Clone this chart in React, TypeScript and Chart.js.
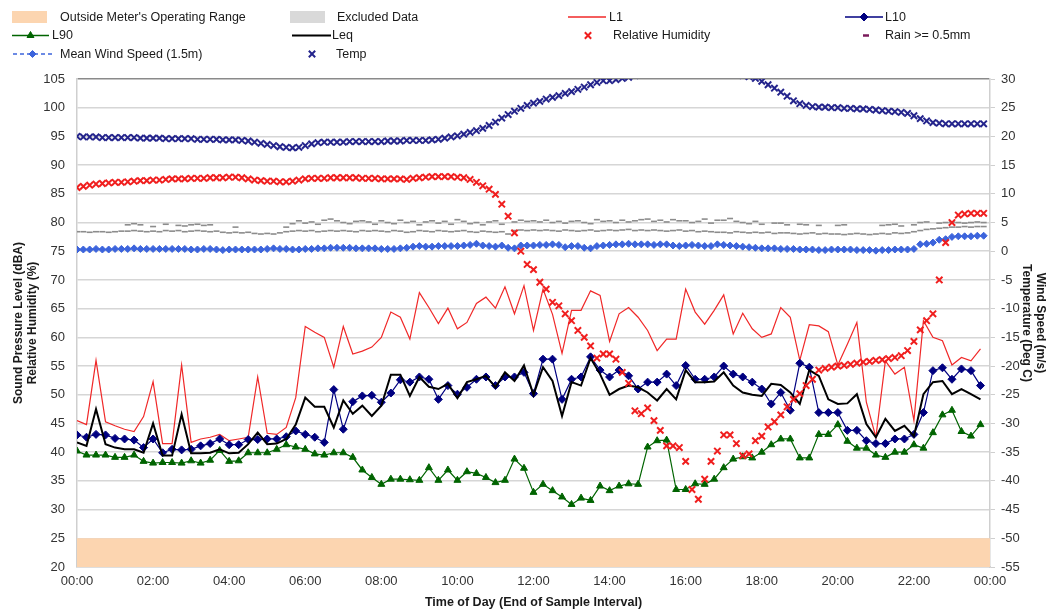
import React, { useEffect, useRef } from 'react';
import { Chart, registerables } from 'chart.js';
import { drawPoint } from 'chart.js/helpers';

Chart.register(...registerables);

const FONT = '"Liberation Sans", Arial, Helvetica, sans-serif';

// ---------- categories ----------
// noise statistics: 15-minute intervals (minutes after midnight)
const noiseTimes: number[] = Array.from({ length: 96 }, (_, i) => i * 15);
// weather: 10-minute intervals (minutes after midnight)
const weatherTimes: number[] = Array.from({ length: 144 }, (_, k) => k * 10);

const xTickLabels = ['00:00', '02:00', '04:00', '06:00', '08:00', '10:00', '12:00', '14:00', '16:00', '18:00', '20:00', '22:00', '00:00'];

// ---------- noise series (dBA) ----------
const L1 = [
  45.5, 44.8, 56.0, 45.3, 44.6, 44.0, 43.6, 46.2, 52.3, 41.5, 41.5, 55.2,
  41.7, 42.3, 42.6, 43.1, 42.0, 42.3, 42.6, 53.1, 43.3, 43.1, 44.3, 49.5,
  61.9, 60.9, 60.0, 54.8, 61.9, 57.1, 57.6, 58.3, 60.0, 64.4, 63.5, 59.7,
  67.8, 65.2, 62.4, 65.1, 61.5, 62.6, 65.9, 67.0, 65.1, 68.8, 64.1, 69.0,
  61.2, 68.4, 64.0, 57.2, 64.7, 64.7, 68.1, 67.3, 59.3, 64.1, 65.2, 63.5,
  61.2, 57.7, 59.7, 59.7, 68.4, 64.4, 62.3, 64.7, 67.4, 60.6, 64.2, 61.5,
  60.0, 60.6, 65.2, 63.5, 56.0, 62.2, 62.0, 61.0, 55.2, 58.8, 62.6, 48.7,
  42.6, 55.9, 53.6, 54.8, 45.5, 62.9, 60.0, 59.4, 55.2, 56.5, 55.9, 58.0,
];
const L10 = [
  43.0, 42.6, 43.1, 43.0, 42.4, 42.3, 42.1, 40.8, 42.3, 39.9, 40.5, 40.4,
  40.5, 41.1, 41.5, 42.3, 41.3, 41.3, 42.2, 42.2, 42.3, 42.3, 42.7, 43.7,
  43.1, 42.6, 41.7, 50.9, 44.0, 48.8, 49.8, 49.9, 48.7, 50.3, 52.6, 52.2,
  53.1, 52.7, 49.2, 51.6, 50.1, 51.3, 52.7, 53.1, 51.6, 53.1, 53.1, 53.9,
  50.2, 56.2, 56.2, 49.2, 52.7, 53.1, 56.6, 54.3, 53.1, 54.3, 53.3, 51.0,
  52.2, 52.2, 53.6, 51.6, 55.1, 52.7, 52.7, 53.1, 55.0, 53.6, 53.1, 52.2,
  51.0, 48.4, 50.4, 47.3, 55.5, 54.8, 46.9, 46.9, 46.9, 43.8, 43.8, 42.0,
  41.5, 41.5, 42.3, 42.3, 43.1, 46.9, 54.2, 54.7, 52.7, 54.5, 54.2, 51.6,
];
const L90 = [
  40.2, 39.5, 39.5, 39.5, 39.1, 39.1, 39.5, 38.4, 38.1, 38.2, 38.2, 38.1,
  38.5, 38.1, 38.6, 40.3, 38.4, 38.5, 39.9, 39.9, 39.9, 40.5, 41.3, 40.9,
  40.5, 39.7, 39.5, 39.9, 39.9, 39.1, 36.9, 35.6, 34.4, 35.3, 35.3, 35.2,
  35.1, 37.3, 35.1, 36.9, 35.1, 36.6, 36.3, 35.6, 34.7, 35.1, 38.8, 37.2,
  33.0, 34.4, 33.3, 32.2, 30.9, 32.0, 31.6, 34.1, 33.3, 34.1, 34.5, 34.4,
  40.9, 42.0, 42.1, 33.5, 33.5, 34.5, 34.4, 35.3, 37.3, 38.8, 39.2, 39.0,
  40.0, 41.3, 42.3, 42.3, 39.0, 39.0, 43.1, 43.1, 44.8, 41.9, 40.7, 40.7,
  39.5, 39.1, 40.0, 40.0, 41.3, 40.7, 43.4, 46.5, 47.3, 43.6, 42.8, 44.8,
];
const Leq = [
  41.7, 41.1, 47.5, 41.4, 40.8, 40.5, 40.5, 39.9, 45.0, 39.4, 39.4, 46.6,
  39.8, 39.8, 39.9, 40.5, 39.8, 39.9, 41.4, 43.4, 41.4, 41.5, 42.3, 44.8,
  49.5, 47.9, 47.9, 44.3, 49.0, 46.7, 48.1, 46.3, 48.1, 53.5, 53.5, 49.8,
  53.1, 51.4, 51.0, 51.9, 49.4, 52.2, 52.7, 53.3, 51.3, 53.9, 52.4, 55.1,
  50.0, 54.8, 52.4, 46.3, 52.2, 51.6, 56.4, 53.6, 50.0, 51.0, 51.6, 51.3,
  50.4, 49.0, 51.0, 49.2, 54.3, 52.2, 52.2, 52.3, 53.9, 51.6, 50.4, 50.0,
  49.8, 51.9, 51.7, 50.4, 48.4, 54.3, 53.3, 49.2, 48.4, 48.5, 50.1, 44.9,
  42.6, 45.8, 43.7, 44.6, 42.8, 50.1, 52.2, 52.4, 50.1, 51.0, 50.1, 49.2,
];

// ---------- weather series (10-minute) ----------
const relativeHumidity = [
  86.1, 86.3, 86.5, 86.7, 86.8, 86.9,
  87.0, 87.0, 87.1, 87.2, 87.3, 87.3,
  87.4, 87.4, 87.5, 87.6, 87.6, 87.6,
  87.7, 87.7, 87.7, 87.8, 87.8, 87.8,
  87.9, 87.9, 87.8, 87.6, 87.4, 87.3,
  87.2, 87.2, 87.1, 87.1, 87.2, 87.4,
  87.6, 87.7, 87.7, 87.7, 87.8, 87.8,
  87.8, 87.8, 87.8, 87.7, 87.7, 87.7,
  87.6, 87.6, 87.6, 87.6, 87.5, 87.7,
  87.8, 87.9, 88.0, 88.0, 88.0, 88.0,
  87.9, 87.8, 87.5, 87.0, 86.4, 85.8,
  84.9, 83.2, 81.1, 78.2, 75.0, 72.7,
  71.8, 69.6, 68.4, 66.1, 65.5, 64.1,
  62.9, 61.2, 60.0, 58.5, 56.4, 57.1,
  57.1, 56.2, 53.9, 52.0, 47.2, 46.7,
  47.7, 45.5, 43.8, 41.1, 41.1, 40.8,
  38.4, 33.5, 31.8, 35.3, 38.4, 40.2,
  43.0, 43.0, 41.5, 39.4, 39.7, 42.0,
  42.8, 44.4, 45.3, 46.5, 47.9, 49.2,
  50.2, 51.6, 52.7, 54.3, 54.6, 54.8,
  55.0, 55.1, 55.3, 55.5, 55.7, 55.8,
  56.0, 56.1, 56.3, 56.5, 56.8, 57.7,
  59.3, 61.3, 62.9, 64.1, 70.0, 76.5,
  80.0, 81.3, 81.5, 81.6, 81.6, 81.6,
];
const temperature = [
  20.0, 19.9, 19.9, 19.9, 19.8, 19.8,
  19.8, 19.8, 19.8, 19.8, 19.7, 19.7,
  19.7, 19.7, 19.6, 19.6, 19.6, 19.6,
  19.6, 19.5, 19.5, 19.5, 19.5, 19.4,
  19.4, 19.4, 19.3, 19.2, 19.0, 18.8,
  18.6, 18.4, 18.2, 18.1, 18.0, 18.1,
  18.4, 18.7, 18.9, 19.0, 19.0, 19.0,
  19.0, 19.1, 19.1, 19.1, 19.1, 19.1,
  19.1, 19.2, 19.2, 19.2, 19.3, 19.3,
  19.3, 19.3, 19.4, 19.5, 19.7, 19.9,
  20.1, 20.4, 20.7, 21.0, 21.4, 21.9,
  22.5, 23.2, 23.8, 24.4, 24.9, 25.4,
  25.8, 26.1, 26.5, 26.8, 27.1, 27.5,
  27.8, 28.2, 28.6, 29.0, 29.4, 29.7,
  29.7, 29.9, 30.1, 30.3, 30.6, 31.0,
  31.3, 31.6, 31.8, 32.0, 32.2, 32.3,
  32.4, 32.4, 32.3, 32.2, 32.0, 31.8,
  31.5, 31.2, 30.9, 30.6, 30.4, 30.1,
  29.6, 29.0, 28.4, 27.7, 27.0, 26.2,
  25.7, 25.4, 25.2, 25.1, 25.1, 25.0,
  25.0, 24.9, 24.9, 24.8, 24.8, 24.7,
  24.6, 24.5, 24.4, 24.3, 24.2, 24.0,
  23.6, 23.1, 22.7, 22.4, 22.3, 22.2,
  22.2, 22.2, 22.2, 22.2, 22.2, 22.2,
];
const meanWindSpeed = [
  0.3, 0.3, 0.3, 0.4, 0.3, 0.3,
  0.4, 0.4, 0.4, 0.5, 0.4, 0.4,
  0.4, 0.4, 0.4, 0.4, 0.4, 0.4,
  0.3, 0.3, 0.4, 0.4, 0.3, 0.2,
  0.3, 0.3, 0.3, 0.3, 0.3, 0.3,
  0.4, 0.5, 0.4, 0.4, 0.3, 0.3,
  0.4, 0.4, 0.5, 0.5, 0.6, 0.6,
  0.6, 0.6, 0.5, 0.5, 0.5, 0.5,
  0.4, 0.4, 0.4, 0.5, 0.6, 0.8,
  0.9, 0.8, 0.8, 0.9, 0.9, 0.9,
  0.9, 1.0, 1.1, 1.3, 1.0, 0.9,
  0.8, 1.0, 0.6, 0.5, 1.0, 1.0,
  1.0, 1.1, 1.1, 1.2, 1.1, 0.7,
  0.9, 0.9, 0.6, 0.5, 0.9, 1.0,
  1.1, 1.2, 1.2, 1.3, 1.2, 1.2,
  1.2, 1.1, 1.2, 1.2, 1.0, 0.9,
  1.0, 1.1, 1.0, 0.9, 0.9, 1.2,
  1.1, 1.0, 0.9, 0.8, 0.7, 0.6,
  0.5, 0.5, 0.5, 0.4, 0.4, 0.4,
  0.3, 0.3, 0.3, 0.2, 0.2, 0.3,
  0.3, 0.3, 0.3, 0.2, 0.2, 0.2,
  0.1, 0.2, 0.2, 0.3, 0.3, 0.3,
  0.4, 1.2, 1.3, 1.5, 2.0, 2.1,
  2.5, 2.6, 2.6, 2.6, 2.7, 2.7,
];
// grey dash markers (m/s) – lower and upper traces
const greyLow = [
  3.4, 3.4, 3.3, 3.4, 3.4, 3.3,
  3.4, 3.5, 3.5, 3.6, 3.5, 3.4,
  3.5, 3.4, 3.6, 3.5, 3.6, 3.4,
  3.5, 3.6, 3.5, 3.4, 3.5, 3.3,
  3.2, 3.3, 3.2, 3.3, 3.1, 3.0,
  3.1, 3.0, 3.2, 3.4, 3.5, 3.6,
  3.5, 3.6, 3.4, 3.5, 3.6, 3.5,
  3.6, 3.5, 3.4, 3.6, 3.5, 3.6,
  3.5, 3.4, 3.6, 3.5, 3.3, 3.4,
  3.6, 3.5, 3.4, 3.6, 3.5, 3.4,
  3.5, 3.6, 3.4, 3.3, 3.5, 3.4,
  3.3, 3.4, 3.0, 3.6, 3.7, 3.6,
  3.7, 3.6, 3.7, 3.6, 3.5, 3.7,
  3.6, 3.5, 3.6, 3.7, 3.5, 3.6,
  3.7, 3.6, 3.7, 3.8, 3.6, 3.7,
  3.6, 3.7, 3.6, 3.5, 3.6, 3.7,
  3.5, 3.6, 3.4, 3.5, 3.4, 3.3,
  3.3, 3.2, 3.4, 3.3, 3.2, 3.3,
  3.2, 3.3, 3.1, 3.2, 3.2, 3.1,
  3.0, 3.1, 3.2, 3.0, 3.1, 3.0,
  3.0, 2.9, 3.0, 3.1, 3.0, 2.9,
  3.0, 3.1, 3.0, 3.2, 3.1, 3.2,
  3.4, 3.6, 3.8, 3.9, 4.0, 4.1,
  4.2, 4.2, 4.3, 4.2, 4.3, 4.3,
];
const greyHigh: (number | null)[] = [
  null, null, null, null, null, null,
  null, null, 4.6, 4.8, 4.6, null,
  4.3, null, 4.7, null, 4.5, 4.4,
  4.6, 4.7, 4.5, 4.6, null, null,
  null, 4.2, null, null, null, null,
  null, null, null, 4.2, 4.8, 5.3,
  4.9, 5.1, 4.7, 5.4, 5.6, 5.3,
  5.0, 4.8, 5.2, 5.3, 5.1, 4.7,
  5.3, 5.0, 4.8, 5.4, 5.0, 5.2,
  4.6, 5.1, 5.3, 4.9, 5.2, 4.7,
  5.5, 5.2, 4.8, 5.0, 4.6, 5.1,
  5.3, 4.7, null, 5.1, 5.4, 5.2,
  5.3, 5.1, 5.4, 5.0, 5.2, 4.9,
  5.2, 5.3, 5.0, 4.8, 5.5, 5.2,
  5.3, 5.0, 5.4, 5.1, 5.3, 5.5,
  5.6, 5.2, 5.4, 5.1, 5.5, 5.3,
  5.3, 5.0, 5.2, 5.6, 4.9, 5.4,
  5.4, 5.7, 5.2, 5.0, 4.8, 5.2,
  4.7, null, 4.9, 4.9, 4.6, null,
  4.7, 4.6, null, 4.5, null, null,
  4.5, 4.6, null, null, null, null,
  null, 4.5, 4.6, 4.7, 4.4, null,
  4.6, 5.0, 5.1, null, 4.9, 5.0,
  5.1, 5.0, 4.9, 5.0, 5.1, 5.0,
];

// meter operating range band (dBA)
const rangeBandTop = 25;
const rangeBandBottom = 20;
const dayStart = 0;
const dayEnd = 1440;

// ---------- colours ----------
const C = {
  L1: '#f02828',
  L10: '#000080',
  L90: '#006400',
  Leq: '#000000',
  RH: '#f01e1e',
  rain: '#7a1a5a',
  wind: '#3c64dc',
  temp: '#24248c',
  grey: '#8c8c8c',
  band: '#fcd5b0',
  excluded: '#d9d9d9',
};

type LegendEntry = {
  label: string;
  kind: 'box' | 'line' | 'marker';
  color: string;
  row: number;
  x0: number;
  x1: number;
  textX: number;
  pointStyle?: string;
  radius?: number;
  dash?: number[];
  lineWidth?: number;
  markerWidth?: number;
};

const legendRowsY = [17, 35.5, 54];
const legendEntries: LegendEntry[] = [
  { label: "Outside Meter's Operating Range", kind: 'box', color: C.band, row: 0, x0: 12, x1: 47, textX: 60 },
  { label: 'Excluded Data', kind: 'box', color: C.excluded, row: 0, x0: 290, x1: 325, textX: 337 },
  { label: 'L1', kind: 'line', color: C.L1, row: 0, x0: 568, x1: 606, textX: 609, lineWidth: 1.3 },
  { label: 'L10', kind: 'line', color: C.L10, row: 0, x0: 845, x1: 883, textX: 885, lineWidth: 1.3, pointStyle: 'rectRot', radius: 4 },
  { label: 'L90', kind: 'line', color: C.L90, row: 1, x0: 12, x1: 49, textX: 52, lineWidth: 1.3, pointStyle: 'triangle', radius: 4 },
  { label: 'Leq', kind: 'line', color: C.Leq, row: 1, x0: 292, x1: 331, textX: 332, lineWidth: 2 },
  { label: 'Relative Humidity', kind: 'marker', color: C.RH, row: 1, x0: 588, x1: 588, textX: 613, pointStyle: 'crossRot', radius: 4.5, markerWidth: 2 },
  { label: 'Rain >= 0.5mm', kind: 'marker', color: C.rain, row: 1, x0: 866, x1: 866, textX: 885, pointStyle: 'line', radius: 3, markerWidth: 2.5 },
  { label: 'Mean Wind Speed (1.5m)', kind: 'line', color: C.wind, row: 2, x0: 13, x1: 52, textX: 60, lineWidth: 1.5, dash: [4, 3], pointStyle: 'rectRot', radius: 3.5 },
  { label: 'Temp', kind: 'marker', color: C.temp, row: 2, x0: 312, x1: 312, textX: 336, pointStyle: 'crossRot', radius: 4.5, markerWidth: 2 },
];

const legendPlugin = {
  id: 'gridLegend',
  afterDraw(chart: any) {
    const ctx: CanvasRenderingContext2D = chart.ctx;
    ctx.save();
    for (const e of legendEntries) {
      const y = legendRowsY[e.row];
      if (e.kind === 'box') {
        ctx.fillStyle = e.color;
        ctx.fillRect(e.x0, y - 6, e.x1 - e.x0, 12);
      } else if (e.kind === 'line') {
        ctx.strokeStyle = e.color;
        ctx.lineWidth = e.lineWidth || 1;
        ctx.setLineDash(e.dash || []);
        ctx.beginPath();
        ctx.moveTo(e.x0, y);
        ctx.lineTo(e.x1, y);
        ctx.stroke();
        ctx.setLineDash([]);
        if (e.pointStyle) {
          ctx.fillStyle = e.color;
          ctx.strokeStyle = e.color;
          ctx.lineWidth = 1;
          drawPoint(ctx, { pointStyle: e.pointStyle as any, radius: e.radius || 3, rotation: 0, borderWidth: 1 } as any, (e.x0 + e.x1) / 2, y);
        }
      } else {
        ctx.fillStyle = e.color;
        ctx.strokeStyle = e.color;
        ctx.lineWidth = e.markerWidth || 1;
        drawPoint(ctx, { pointStyle: e.pointStyle as any, radius: e.radius || 3, rotation: 0, borderWidth: e.markerWidth || 1 } as any, e.x0, y);
      }
      ctx.fillStyle = '#1a1a1a';
      ctx.font = `12.5px ${FONT}`;
      ctx.textAlign = 'left';
      ctx.textBaseline = 'middle';
      ctx.fillText(e.label, e.textX, y + 0.5);
    }
    ctx.restore();
  },
};

const pts = (xs: number[], ys: (number | null)[]) => xs.map((x, i) => ({ x, y: ys[i] }));

export default function App() {
  const canvasRef = useRef<HTMLCanvasElement | null>(null);

  useEffect(() => {
    if (!canvasRef.current) return;
    const tickFont = { family: FONT, size: 13 };
    const titleFont = { family: FONT, size: 12, weight: 'bold' as const };

    const chart = new Chart(canvasRef.current, {
      type: 'line',
      data: {
        datasets: [
          {
            label: 'Temp',
            data: pts(weatherTimes, temperature),
            yAxisID: 'y1',
            showLine: false,
            pointStyle: 'crossRot',
            pointRadius: 4.5,
            pointBorderWidth: 2,
            borderColor: C.temp,
            backgroundColor: C.temp,
          },
          {
            label: 'Relative Humidity',
            data: pts(weatherTimes, relativeHumidity),
            yAxisID: 'y',
            showLine: false,
            pointStyle: 'crossRot',
            pointRadius: 4.5,
            pointBorderWidth: 2,
            borderColor: C.RH,
            backgroundColor: C.RH,
          },
          {
            label: 'Mean Wind Speed (1.5m)',
            data: pts(weatherTimes, meanWindSpeed),
            yAxisID: 'y1',
            borderColor: C.wind,
            backgroundColor: C.wind,
            borderWidth: 1.5,
            borderDash: [4, 3],
            pointStyle: 'rectRot',
            pointRadius: 3.5,
            pointBorderWidth: 1,
          },
          {
            label: 'Leq',
            data: pts(noiseTimes, Leq),
            yAxisID: 'y',
            borderColor: C.Leq,
            borderWidth: 2,
            pointRadius: 0,
          },
          {
            label: 'L10',
            data: pts(noiseTimes, L10),
            yAxisID: 'y',
            borderColor: C.L10,
            backgroundColor: C.L10,
            borderWidth: 1.2,
            pointStyle: 'rectRot',
            pointRadius: 4,
            pointBorderWidth: 1,
          },
          {
            label: 'L90',
            data: pts(noiseTimes, L90),
            yAxisID: 'y',
            borderColor: C.L90,
            backgroundColor: C.L90,
            borderWidth: 1.2,
            pointStyle: 'triangle',
            pointRadius: 4,
            pointBorderWidth: 1,
          },
          {
            label: 'L1',
            data: pts(noiseTimes, L1),
            yAxisID: 'y',
            borderColor: C.L1,
            borderWidth: 1.2,
            pointRadius: 0,
          },
          {
            label: 'grey-high',
            data: pts(weatherTimes, greyHigh),
            yAxisID: 'y1',
            showLine: false,
            pointStyle: 'line',
            pointRadius: 3,
            pointBorderWidth: 1.6,
            borderColor: C.grey,
            backgroundColor: C.grey,
          },
          {
            label: 'grey-low',
            data: pts(weatherTimes, greyLow),
            yAxisID: 'y1',
            showLine: false,
            pointStyle: 'line',
            pointRadius: 3,
            pointBorderWidth: 1.6,
            borderColor: C.grey,
            backgroundColor: C.grey,
          },
          {
            label: "Outside Meter's Operating Range",
            data: [
              { x: dayStart, y: rangeBandTop },
              { x: dayEnd, y: rangeBandTop },
            ],
            yAxisID: 'y',
            borderWidth: 0,
            pointRadius: 0,
            backgroundColor: C.band,
            fill: { value: rangeBandBottom },
          },
        ] as any,
      },
      options: {
        animation: false,
        responsive: false,
        events: [],
        layout: { padding: { top: 79, left: 0, right: 0, bottom: 0 } },
        plugins: {
          legend: { display: false },
          tooltip: { enabled: false },
          title: { display: false },
        },
        elements: { line: { tension: 0 } },
        scales: {
          x: {
            type: 'linear',
            min: dayStart,
            max: dayEnd,
            afterFit: (s: any) => { s.height = 45; },
            ticks: {
              stepSize: 120,
              autoSkip: false,
              maxRotation: 0,
              padding: 7,
              color: '#333',
              font: tickFont,
              callback: (v: any) => xTickLabels[Math.round(Number(v) / 120)] ?? '',
            },
            grid: { display: false, drawTicks: false },
            border: { display: true, color: '#d4d4d4', width: 1.5 },
            title: {
              display: true,
              text: 'Time of Day (End of Sample Interval)',
              color: '#1a1a1a',
              font: { family: FONT, size: 12.5, weight: 'bold' },
              padding: { top: 0, bottom: 2 },
            },
          },
          y: {
            type: 'linear',
            position: 'left',
            min: 20,
            max: 105,
            afterFit: (s: any) => { s.width = 77; },
            ticks: { stepSize: 5, autoSkip: false, padding: 12, color: '#333', font: tickFont },
            grid: {
              drawTicks: false,
              lineWidth: 1.5,
              color: (c: any) => (c.tick && c.tick.value === 105 ? '#8a8a8a' : '#d6d6d6'),
            },
            border: { display: true, color: '#cfcfcf', width: 1.5 },
            title: {
              display: true,
              text: ['Sound Pressure Level (dBA)', 'Relative Humidity (%)'],
              color: '#1a1a1a',
              font: titleFont,
              padding: { top: 11, bottom: 0 },
            },
          },
          y1: {
            type: 'linear',
            position: 'right',
            min: -55,
            max: 30,
            afterFit: (s: any) => { s.width = 64; },
            ticks: { stepSize: 5, autoSkip: false, padding: 6, color: '#333', font: tickFont },
            grid: { drawOnChartArea: false, drawTicks: true, tickLength: 5, color: '#cfcfcf', lineWidth: 1 },
            border: { display: true, color: '#cfcfcf', width: 1.5 },
            title: {
              display: true,
              text: ['Wind Speed (m/s)', 'Temperature (Deg C)'],
              color: '#1a1a1a',
              font: titleFont,
              padding: { top: 6, bottom: 0 },
            },
          },
        },
      } as any,
      plugins: [legendPlugin],
    });

    return () => chart.destroy();
  }, []);

  return (
    <div style={{ position: 'fixed', left: 0, top: 0, width: 1054, height: 612, background: '#ffffff' }}>
      <canvas ref={canvasRef} width={1054} height={612} style={{ display: 'block', width: 1054, height: 612 }} />
    </div>
  );
}
